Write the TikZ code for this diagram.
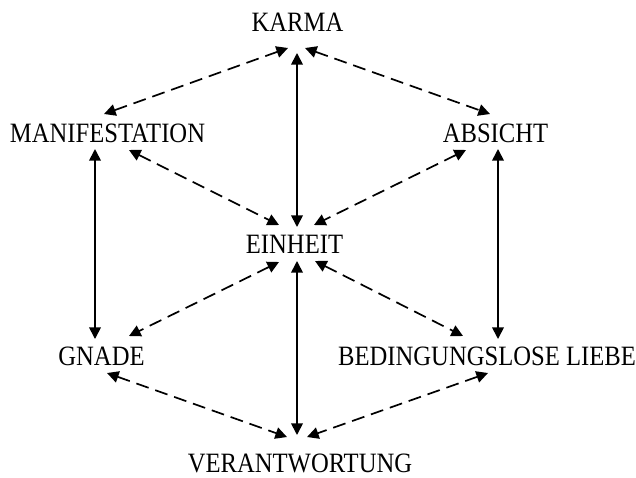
\documentclass[tikz,border=0pt]{standalone}
\usepackage{fontspec}
\setmainfont[FakeStretch=0.88]{Liberation Serif}
\usetikzlibrary{arrows.meta}
\begin{document}
\begin{tikzpicture}[x=0.5pt,y=-0.5pt,
  label/.style={inner sep=0pt,anchor=base,font=\fontsize{14}{16}\selectfont},
  link/.style={line width=0.85pt,{Triangle[length=5.8pt,width=5.8pt]}-{Triangle[length=5.8pt,width=5.8pt]}},
  solidlink/.style={link},
  dashlink/.style={link,dash pattern=on 6.5pt off 3.5pt}]
\useasboundingbox (0,0) rectangle (636,477);
\node[label] (karma) at (297.5,31) {KARMA};
\node[label] (manif) at (107.5,142) {MANIFESTATION};
\node[label] (absicht) at (495.5,142) {ABSICHT};
\node[label] (einheit) at (294.5,253) {EINHEIT};
\node[label] (gnade) at (101.5,365) {GNADE};
\node[label] (liebe) at (487,365) {BEDINGUNGSLOSE LIEBE};
\node[label] (verant) at (300,472) {VERANTWORTUNG};
% solid verticals
\draw[solidlink] ([shift={(-0.5,22)}]karma.base) -- ([shift={(2.5,-26)}]einheit.base);
\draw[solidlink] ([shift={(2.5,8)}]einheit.base) -- ([shift={(-3,-37)}]verant.base);
\draw[solidlink] ([shift={(-12.5,7)}]manif.base) -- ([shift={(-6.5,-26)}]gnade.base);
\draw[solidlink] ([shift={(2.5,7)}]absicht.base) -- ([shift={(11,-26)}]liebe.base);
% dashed
\draw[dashlink] ([shift={(-9.5,17)}]karma.base) -- ([shift={(-3.5,-28)}]manif.base);
\draw[dashlink] ([shift={(7.5,17)}]karma.base) -- ([shift={(-5.5,-28)}]absicht.base);
\draw[dashlink] ([shift={(21.5,8)}]manif.base) -- ([shift={(-15.5,-28)}]einheit.base);
\draw[dashlink] ([shift={(-29.5,8)}]absicht.base) -- ([shift={(19.5,-28)}]einheit.base);
\draw[dashlink] ([shift={(-15.5,9)}]einheit.base) -- ([shift={(27.5,-29)}]gnade.base);
\draw[dashlink] ([shift={(20.5,8)}]einheit.base) -- ([shift={(-24,-29)}]liebe.base);
\draw[dashlink] ([shift={(5.5,8)}]gnade.base) -- ([shift={(-13,-35)}]verant.base);
\draw[dashlink] ([shift={(1,8)}]liebe.base) -- ([shift={(7,-35)}]verant.base);
\end{tikzpicture}
\end{document}
